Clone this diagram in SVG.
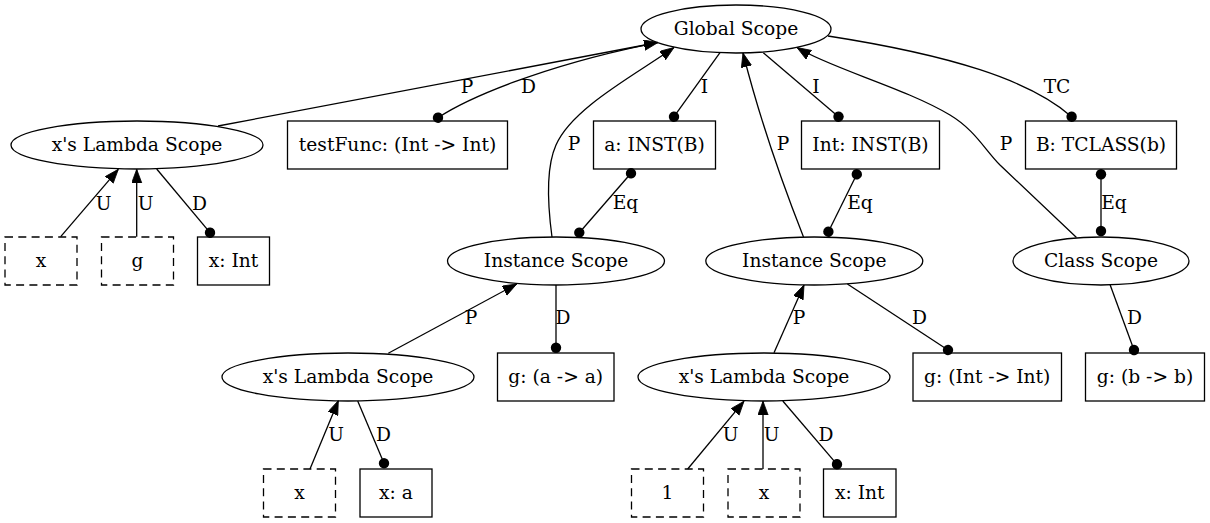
<svg xmlns="http://www.w3.org/2000/svg" width="1210" height="523" viewBox="0 0 1210 523">
<style>
  .node ellipse, .node rect { fill: none; stroke: #000; stroke-width: 1.3; }
  .node rect.dashed { stroke-dasharray: 8 5.3; }
  .node text, .lbl text { font-family: "DejaVu Serif", "Liberation Serif", serif; font-size: 18.67px; text-anchor: middle; fill: #000; }
  #edges path { fill: none; stroke: #000; stroke-width: 1.3; }
  .arr { marker-end: url(#arrow); }
  .dotend { marker-end: url(#dot); }
  .dotboth { marker-start: url(#dot); marker-end: url(#dot); }
</style>
<defs>
  <marker id="arrow" markerUnits="userSpaceOnUse" viewBox="0 0 15 11" markerWidth="15" markerHeight="11" refX="14" refY="5.2" orient="auto">
    <path d="M0,0 L14,5.2 L0,10.4 z" fill="#000" stroke="#000" stroke-width="0.8"/>
  </marker>
  <marker id="dot" markerUnits="userSpaceOnUse" viewBox="0 0 12 12" markerWidth="12" markerHeight="12" refX="6" refY="6" orient="auto">
    <circle cx="6" cy="6" r="5.2" fill="#000"/>
  </marker>
</defs>
<rect x="0" y="0" width="1210" height="523" fill="#fff"/>

<g id="edges">
  <path class="arr" d="M218,126 L658,42.5"/>
  <path d="M438,117.7 C468,98 540,67 646,44.8" style="marker-start:url(#dot)"/>
  <path class="arr" d="M552,237 C547,200 547,165 556,145 C572,108 635,75 674,47.5"/>
  <path class="dotend" d="M720,52.7 L674,116.7"/>
  <path class="dotboth" d="M631,173.3 L579.3,232.7"/>
  <path class="arr" d="M803.5,237 C785,190 760,120 743,53"/>
  <path class="dotend" d="M763.3,52.7 L838.5,116.7"/>
  <path class="dotboth" d="M856.8,174.3 L828.4,231.7"/>
  <path class="arr" d="M1076.5,237.5 L1000,165 C985,150 975,130 950,115 C905,88 830,68 797,47.5"/>
  <path class="dotend" d="M828,36 C950,55 1030,80 1071.6,116.7"/>
  <path class="dotboth" d="M1101,174.3 L1101,231"/>
  <path class="arr" d="M60.7,236.7 L118.3,169.3"/>
  <path class="arr" d="M136.7,236.7 L136.7,169.3"/>
  <path class="dotend" d="M156.7,169 L210,232.7"/>
  <path class="arr" d="M388.3,353.3 L516.7,284"/>
  <path class="dotend" d="M556,285 L556,347.7"/>
  <path class="arr" d="M310,469 L338.3,400.7"/>
  <path class="dotend" d="M357.7,401 L384,463.3"/>
  <path class="arr" d="M774,352.7 L804,285"/>
  <path class="dotend" d="M847.4,284 L948,350"/>
  <path class="dotend" d="M1110,284.5 L1134,350"/>
  <path class="arr" d="M687.7,469 L744,401.2"/>
  <path class="arr" d="M763,469 L763,401.2"/>
  <path class="dotend" d="M782.8,401 L837,464.3"/>
</g>

<g class="lbl" id="edge-labels">
  <text x="467" y="92.5">P</text>
  <text x="528.5" y="92.5">D</text>
  <text x="574" y="150">P</text>
  <text x="704.5" y="92.5">I</text>
  <text x="783" y="150">P</text>
  <text x="816" y="92.5">I</text>
  <text x="1006" y="150">P</text>
  <text x="1057" y="92.5">TC</text>
  <text x="625.5" y="209">Eq</text>
  <text x="860" y="209">Eq</text>
  <text x="1114" y="209">Eq</text>
  <text x="103.5" y="209.5">U</text>
  <text x="145.5" y="209.5">U</text>
  <text x="199.5" y="209.5">D</text>
  <text x="471" y="324">P</text>
  <text x="563" y="324">D</text>
  <text x="336" y="441">U</text>
  <text x="383.5" y="441">D</text>
  <text x="799" y="324">P</text>
  <text x="919.5" y="324">D</text>
  <text x="1134.5" y="324">D</text>
  <text x="730.5" y="441">U</text>
  <text x="771.5" y="441">U</text>
  <text x="826" y="441">D</text>
</g>

<g class="node" id="global_scope"><ellipse cx="736" cy="29" rx="95" ry="24"/><text x="736" y="34.5">Global Scope</text></g>
<g class="node" id="lambda_top"><ellipse cx="137" cy="145" rx="126" ry="24"/><text x="137" y="150.5">x's Lambda Scope</text></g>
<g class="node" id="testfunc"><rect x="287.5" y="121" width="220" height="48"/><text x="397.5" y="150.5">testFunc: (Int -&gt; Int)</text></g>
<g class="node" id="a_inst"><rect x="593.5" y="121" width="122" height="48"/><text x="654.5" y="150.5">a: INST(B)</text></g>
<g class="node" id="int_inst"><rect x="801.5" y="121" width="138" height="48"/><text x="870.5" y="150.5">Int: INST(B)</text></g>
<g class="node" id="b_tclass"><rect x="1025.5" y="121" width="151" height="48"/><text x="1101" y="150.5">B: TCLASS(b)</text></g>
<g class="node" id="use_x1"><rect class="dashed" x="5" y="237" width="72" height="48"/><text x="41" y="266.5">x</text></g>
<g class="node" id="use_g"><rect class="dashed" x="101.5" y="237" width="72" height="48"/><text x="137.5" y="266.5">g</text></g>
<g class="node" id="x_int1"><rect x="197.5" y="237" width="72" height="48"/><text x="233.5" y="266.5">x: Int</text></g>
<g class="node" id="instance_left"><ellipse cx="556" cy="261" rx="108.5" ry="24"/><text x="556" y="266.5">Instance Scope</text></g>
<g class="node" id="instance_right"><ellipse cx="814.3" cy="261" rx="108.5" ry="24"/><text x="814.3" y="266.5">Instance Scope</text></g>
<g class="node" id="class_scope"><ellipse cx="1101" cy="261" rx="88" ry="24"/><text x="1101" y="266.5">Class Scope</text></g>
<g class="node" id="lambda_mid_left"><ellipse cx="348" cy="377" rx="126" ry="24"/><text x="348" y="382.5">x's Lambda Scope</text></g>
<g class="node" id="g_a"><rect x="497.5" y="353" width="116.5" height="48"/><text x="555.75" y="382.5">g: (a -&gt; a)</text></g>
<g class="node" id="lambda_mid_right"><ellipse cx="764" cy="377" rx="126" ry="24"/><text x="764" y="382.5">x's Lambda Scope</text></g>
<g class="node" id="g_int"><rect x="913" y="353" width="148.5" height="48"/><text x="987.25" y="382.5">g: (Int -&gt; Int)</text></g>
<g class="node" id="g_b"><rect x="1085.5" y="353" width="119" height="48"/><text x="1145" y="382.5">g: (b -&gt; b)</text></g>
<g class="node" id="use_x2"><rect class="dashed" x="263.5" y="469" width="72" height="48"/><text x="299.5" y="498.5">x</text></g>
<g class="node" id="x_a"><rect x="360" y="469" width="72" height="48"/><text x="396" y="498.5">x: a</text></g>
<g class="node" id="use_1"><rect class="dashed" x="631.5" y="469" width="72" height="48"/><text x="667.5" y="498.5">1</text></g>
<g class="node" id="use_x3"><rect class="dashed" x="728" y="469" width="72" height="48"/><text x="764" y="498.5">x</text></g>
<g class="node" id="x_int2"><rect x="823.5" y="469" width="72.5" height="48"/><text x="859.75" y="498.5">x: Int</text></g>
</svg>
